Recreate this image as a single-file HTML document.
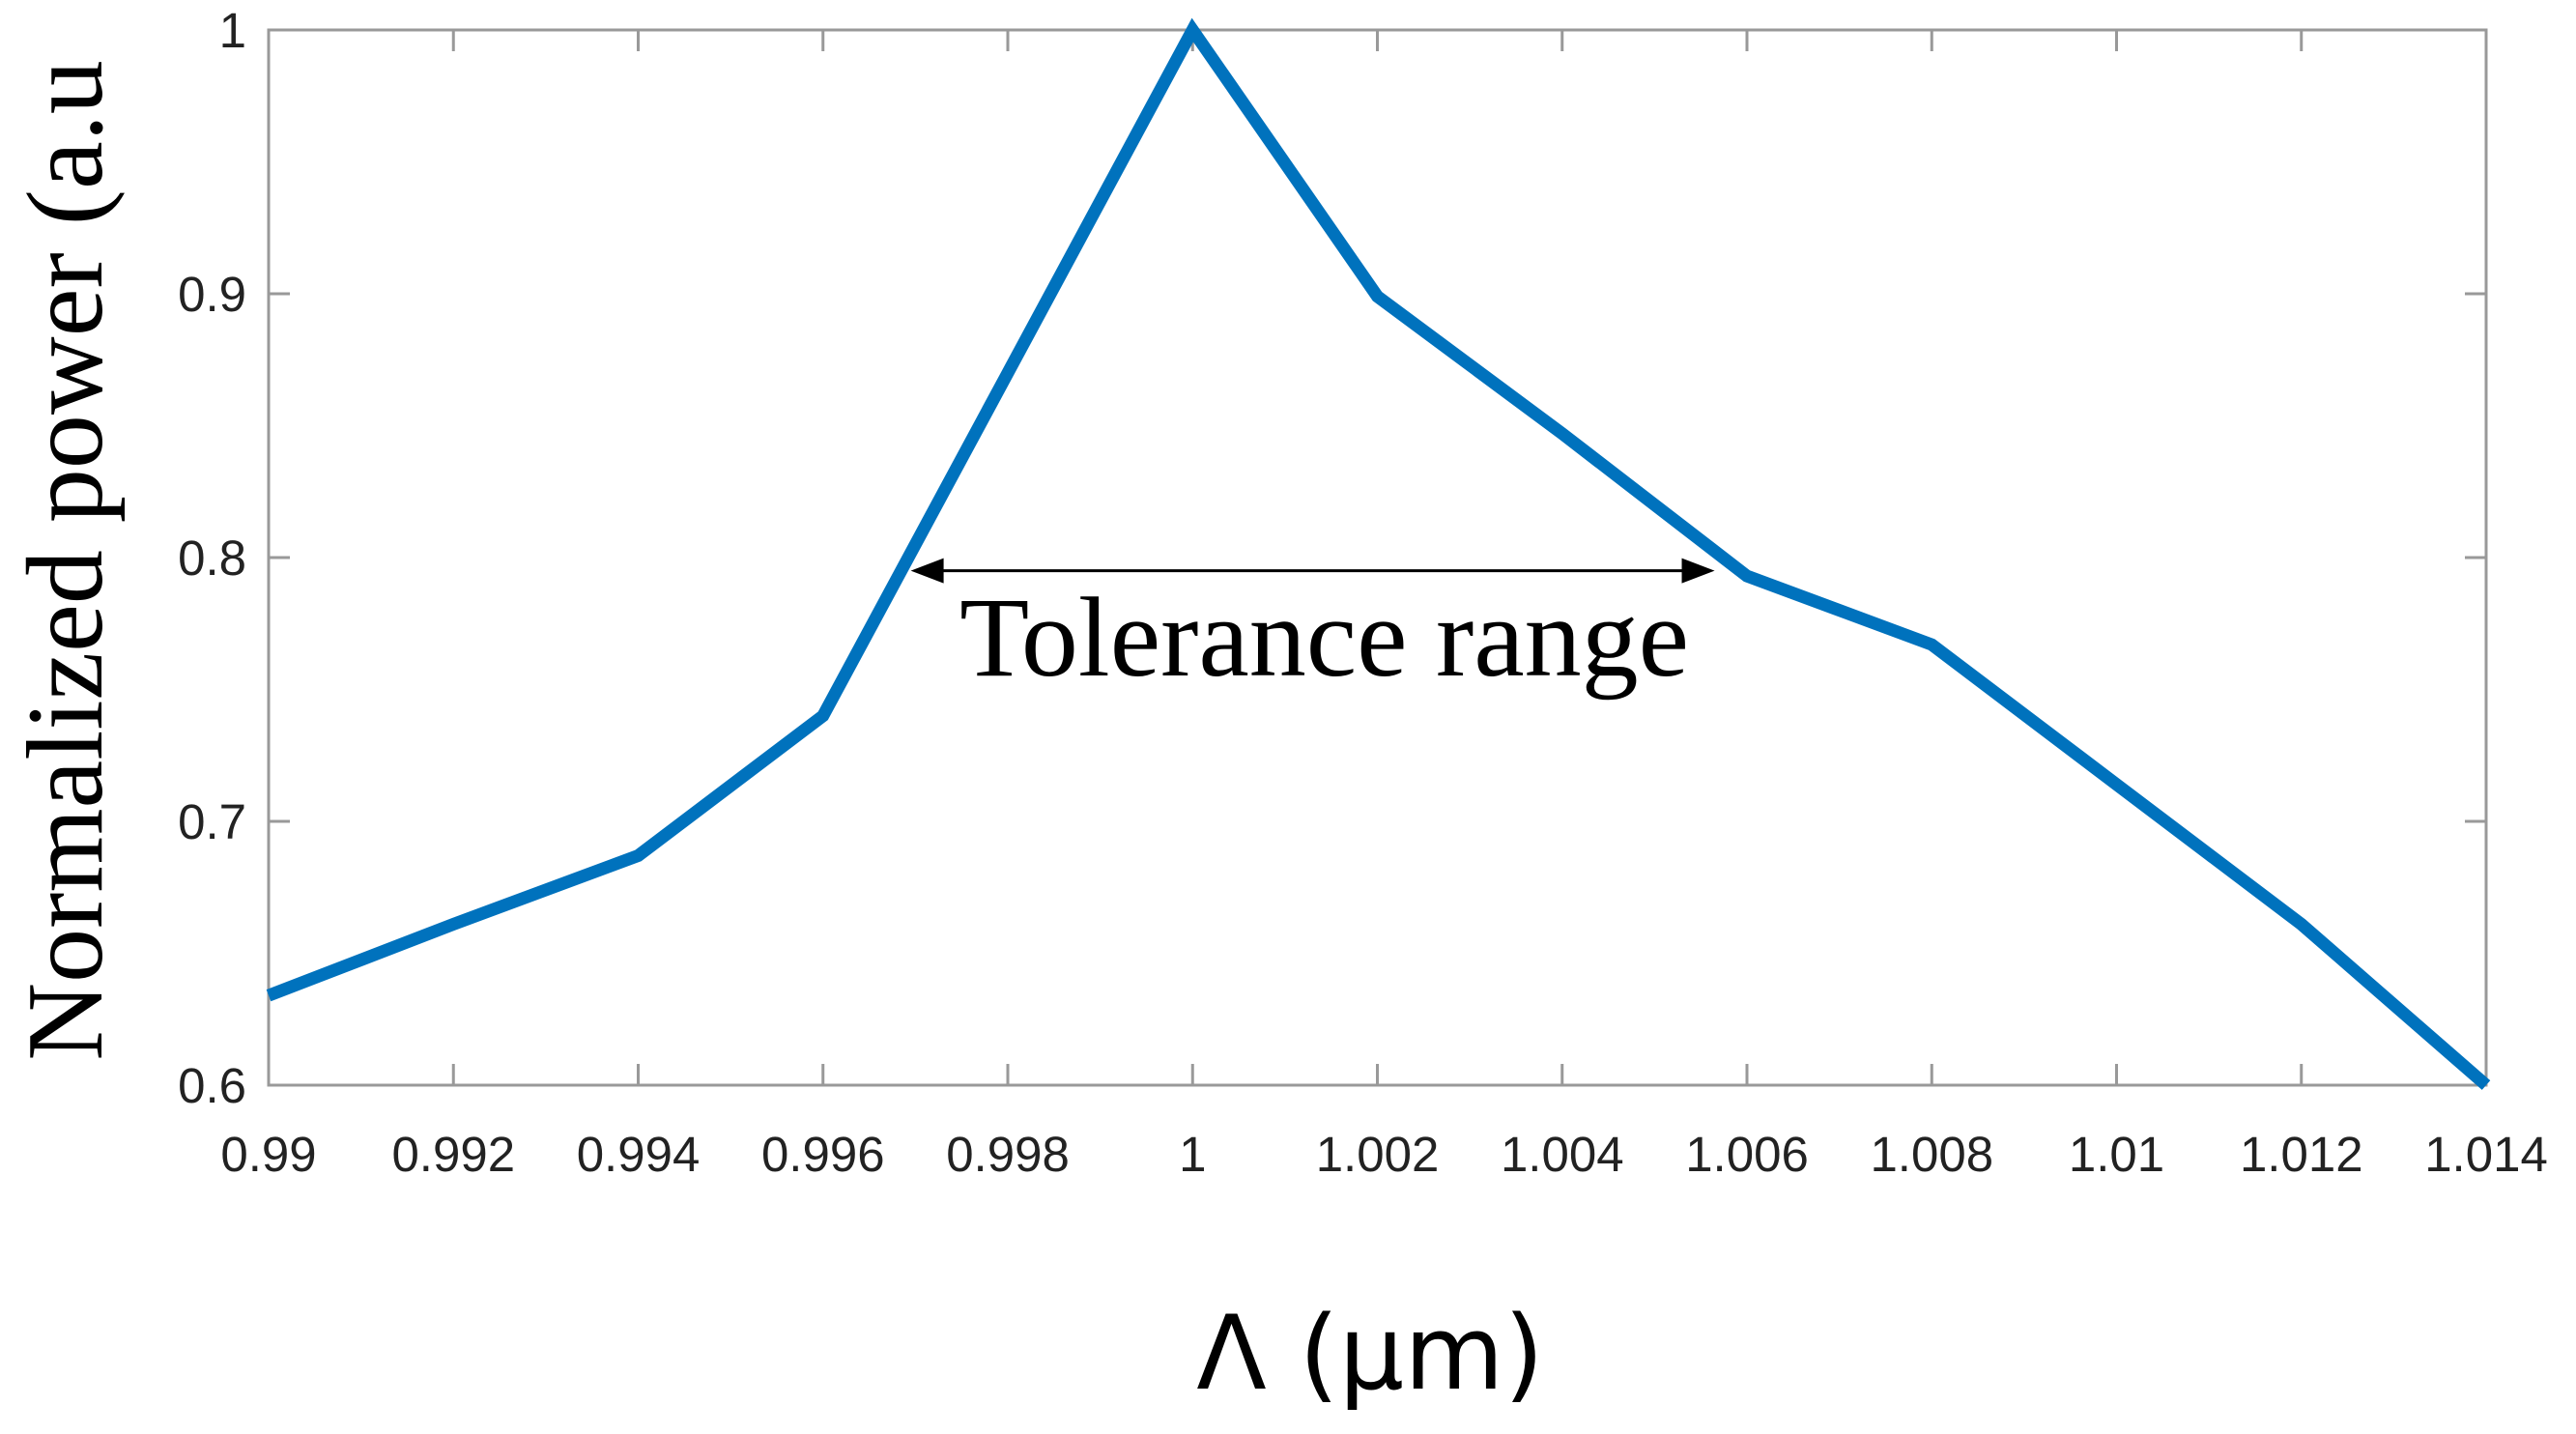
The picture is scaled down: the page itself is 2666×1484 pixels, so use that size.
<!DOCTYPE html>
<html><head><meta charset="utf-8"><style>
html,body{margin:0;padding:0;background:#fff;}
svg{display:block;}
</style></head><body>
<svg id="chart" width="2666" height="1484" xmlns="http://www.w3.org/2000/svg">
<g id="axes"></g>
<text transform="translate(105,580) rotate(-90)" text-anchor="middle" font-family="Liberation Serif, serif" font-size="112" fill="#000">Normalized power (a.u</text>
<text x="1418" y="1437" text-anchor="middle" font-family="DejaVu Sans, Liberation Sans, sans-serif" font-size="106" fill="#000">Λ (μm)</text>
<g id="annot"></g>
</svg>
<script>
const xTicks=[0.99,0.992,0.994,0.996,0.998,1,1.002,1.004,1.006,1.008,1.01,1.012,1.014];
const xTickLabels=["0.99","0.992","0.994","0.996","0.998","1","1.002","1.004","1.006","1.008","1.01","1.012","1.014"];
const yTicks=[0.6,0.7,0.8,0.9,1];
const yTickLabels=["0.6","0.7","0.8","0.9","1"];
const wavelength=[0.99,0.992,0.994,0.996,0.998,1,1.002,1.004,1.006,1.008,1.01,1.012,1.014];
const power=[0.634,0.661,0.687,0.740,0.870,1.0,0.899,0.847,0.793,0.767,0.714,0.661,0.600];
const toleranceRange=[0.99695,1.00565];
const toleranceLevel=0.795;

const L=278,R=2573,T=31,B=1123;
const xs=v=>L+(v-0.99)/(1.014-0.99)*(R-L);
const ys=v=>B-(v-0.6)/(1-0.6)*(B-T);
const NS="http://www.w3.org/2000/svg";
const ax=document.getElementById('axes');
function mk(tag,attrs,parent){const e=document.createElementNS(NS,tag);for(const k in attrs)e.setAttribute(k,attrs[k]);parent.appendChild(e);return e;}
const box=mk('rect',{x:L,y:T,width:R-L,height:B-T,fill:'none',stroke:'#999',"stroke-width":3},ax);


xTicks.forEach((v,i)=>{
  const x=xs(v);
  const t1=mk('line',{x1:x,x2:x,y1:B,y2:B-22,stroke:'#999',"stroke-width":3},ax);
  
  
  const t2=mk('line',{x1:x,x2:x,y1:T,y2:T+22,stroke:'#999',"stroke-width":3},ax);
  
  
  const lb=mk('text',{x:x,y:1212,"text-anchor":"middle","font-family":"Liberation Sans, sans-serif","font-size":51,fill:"#222"},ax);
  lb.textContent=xTickLabels[i];
  
  
});
yTicks.forEach((v,i)=>{
  const y=ys(v);
  const t1=mk('line',{x1:L,x2:L+22,y1:y,y2:y,stroke:'#999',"stroke-width":3},ax);
  
  
  const t2=mk('line',{x1:R,x2:R-22,y1:y,y2:y,stroke:'#999',"stroke-width":3},ax);
  
  
  const lb=mk('text',{x:255,y:y+18,"text-anchor":"end","font-family":"Liberation Sans, sans-serif","font-size":51,fill:"#222"},ax);
  lb.textContent=yTickLabels[i];
  
  
});
const pts=wavelength.map((w,i)=>xs(w)+','+ys(power[i])).join(' ');
const line=mk('polyline',{points:pts,fill:'none',stroke:'#0072BD',"stroke-width":13,"stroke-linejoin":"miter"},ax);



const an=document.getElementById('annot');
const ay=ys(toleranceLevel), ax1=xs(toleranceRange[0]), ax2=xs(toleranceRange[1]);
const ar=mk('line',{x1:ax1+30,x2:ax2-30,y1:ay,y2:ay,stroke:'#000',"stroke-width":3},an);


const h1=mk('polygon',{points:`${ax1},${ay} ${ax1+34},${ay-13} ${ax1+34},${ay+13}`,fill:'#000'},an);


const h2=mk('polygon',{points:`${ax2},${ay} ${ax2-34},${ay-13} ${ax2-34},${ay+13}`,fill:'#000'},an);


const tt=mk('text',{x:(ax1+ax2)/2+12,y:699,"text-anchor":"middle","font-family":"Liberation Serif, serif","font-size":118,fill:'#000'},an);
tt.textContent='Tolerance range';


</script>
</body></html>
